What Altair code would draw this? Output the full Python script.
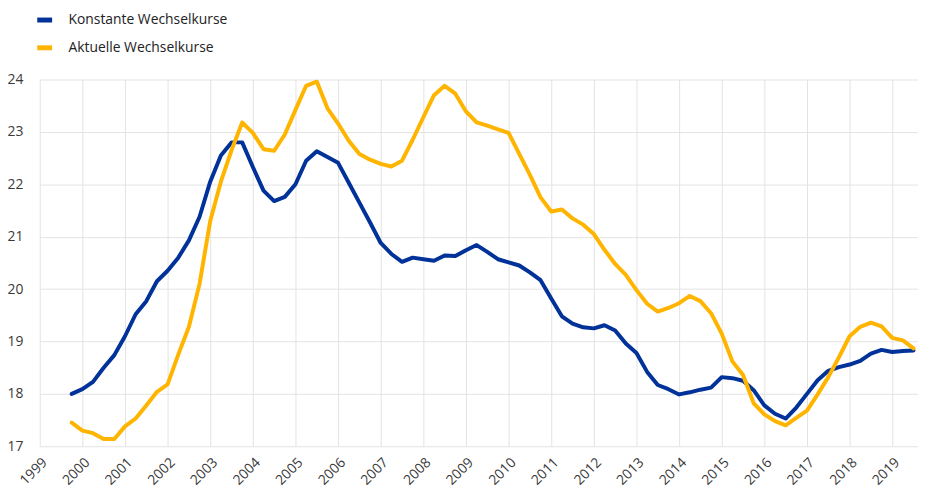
import altair as alt
import pandas as pd

# Quarterly observations, 1999 Q4 to 2019 Q3
quarters = [f"{y}-Q{q}" for y in range(1999, 2020) for q in range(1, 5)][3:83]

konstante = [
    18.00, 18.09, 18.23, 18.50, 18.74, 19.10, 19.52, 19.77, 20.15, 20.35,
    20.60, 20.93, 21.38, 22.05, 22.55, 22.80, 22.80, 22.33, 21.88, 21.68,
    21.76, 22.00, 22.45, 22.63, 22.52, 22.41, 22.03, 21.65, 21.27, 20.88,
    20.67, 20.52, 20.60, 20.57, 20.54, 20.64, 20.63, 20.74, 20.84, 20.71,
    20.57, 20.51, 20.45, 20.32, 20.17, 19.82, 19.48, 19.34, 19.27, 19.25,
    19.31, 19.21, 18.96, 18.78, 18.42, 18.17, 18.09, 17.99, 18.03, 18.08,
    18.12, 18.32, 18.30, 18.25, 18.07, 17.78, 17.62, 17.53, 17.74, 18.00,
    18.26, 18.44, 18.51, 18.56, 18.63, 18.77, 18.84, 18.80, 18.82, 18.83,
]

aktuelle = [
    17.45, 17.30, 17.25, 17.14, 17.14, 17.38, 17.53, 17.78, 18.04, 18.18,
    18.75, 19.28, 20.10, 21.30, 22.05, 22.65, 23.18, 22.98, 22.67, 22.64,
    22.95, 23.42, 23.88, 23.96, 23.45, 23.16, 22.83, 22.58, 22.47, 22.39,
    22.34, 22.45, 22.85, 23.28, 23.70, 23.88, 23.73, 23.39, 23.18, 23.12,
    23.05, 22.98, 22.58, 22.18, 21.75, 21.48, 21.52, 21.35, 21.23, 21.05,
    20.75, 20.48, 20.27, 19.98, 19.72, 19.57, 19.64, 19.73, 19.87, 19.77,
    19.54, 19.15, 18.62, 18.36, 17.82, 17.61, 17.48, 17.40, 17.54, 17.68,
    17.99, 18.32, 18.70, 19.10, 19.28, 19.36, 19.29, 19.07, 19.02, 18.87,
]

series_names = ["Konstante Wechselkurse", "Aktuelle Wechselkurse"]
series_colors = ["#003299", "#ffb400"]
year_ticks = list(range(1999, 2020))
y_ticks = list(range(17, 25))


def quarter_to_year(label):
    y, q = label.split("-Q")
    return int(y) + (int(q) - 1) / 4.0


rows = []
for name, values in zip(series_names, [konstante, aktuelle]):
    for ql, v in zip(quarters, values):
        rows.append({"t": quarter_to_year(ql), "value": v, "series": name})
df = pd.DataFrame(rows)

chart = (
    alt.Chart(df)
    .mark_line(strokeWidth=4, strokeJoin="round", strokeCap="round", clip=True)
    .encode(
        x=alt.X(
            "t:Q",
            scale=alt.Scale(domain=[1999, 2019.605], nice=False, zero=False),
            axis=alt.Axis(
                values=year_ticks,
                format="d",
                title=None,
                labelAngle=-45,
                labelAlign="right",
                labelBaseline="top",
                labelPadding=9,
                labelFontSize=14,
                labelColor="#3a3a3a",
                labelFont="Open Sans",
                domain=False,
                ticks=False,
                grid=True,
                gridColor="#e3e3e3",
                labelOverlap=False,
                labelBound=False,
                labelFlush=False,
            ),
        ),
        y=alt.Y(
            "value:Q",
            scale=alt.Scale(domain=[17, 24], nice=False, zero=False),
            axis=alt.Axis(
                values=y_ticks,
                title=None,
                labelFontSize=14,
                labelColor="#3a3a3a",
                labelFont="Open Sans",
                labelPadding=17,
                domain=False,
                ticks=False,
                grid=True,
                gridColor="#e3e3e3",
            ),
        ),
        color=alt.Color(
            "series:N",
            scale=alt.Scale(domain=series_names, range=series_colors),
            sort=series_names,
            legend=alt.Legend(
                title=None,
                orient="none",
                legendX=-5,
                legendY=-70,
                symbolType="stroke",
                symbolSize=225,
                symbolStrokeWidth=5,
                labelFontSize=14,
                labelFont="Open Sans",
                labelColor="#222222",
                labelOffset=14,
                labelLimit=400,
                rowPadding=8,
                padding=0,
            ),
        ),
        order=alt.Order("t:Q"),
    )
    .properties(
        width=886,
        height=370,
        autosize=alt.AutoSizeParams(type="none"),
        padding={"left": 32, "top": 70, "right": 0, "bottom": 46},
    )
    .configure_view(stroke=None)
)

chart.save("out.html", embed_options={"renderer": "svg", "actions": False})
